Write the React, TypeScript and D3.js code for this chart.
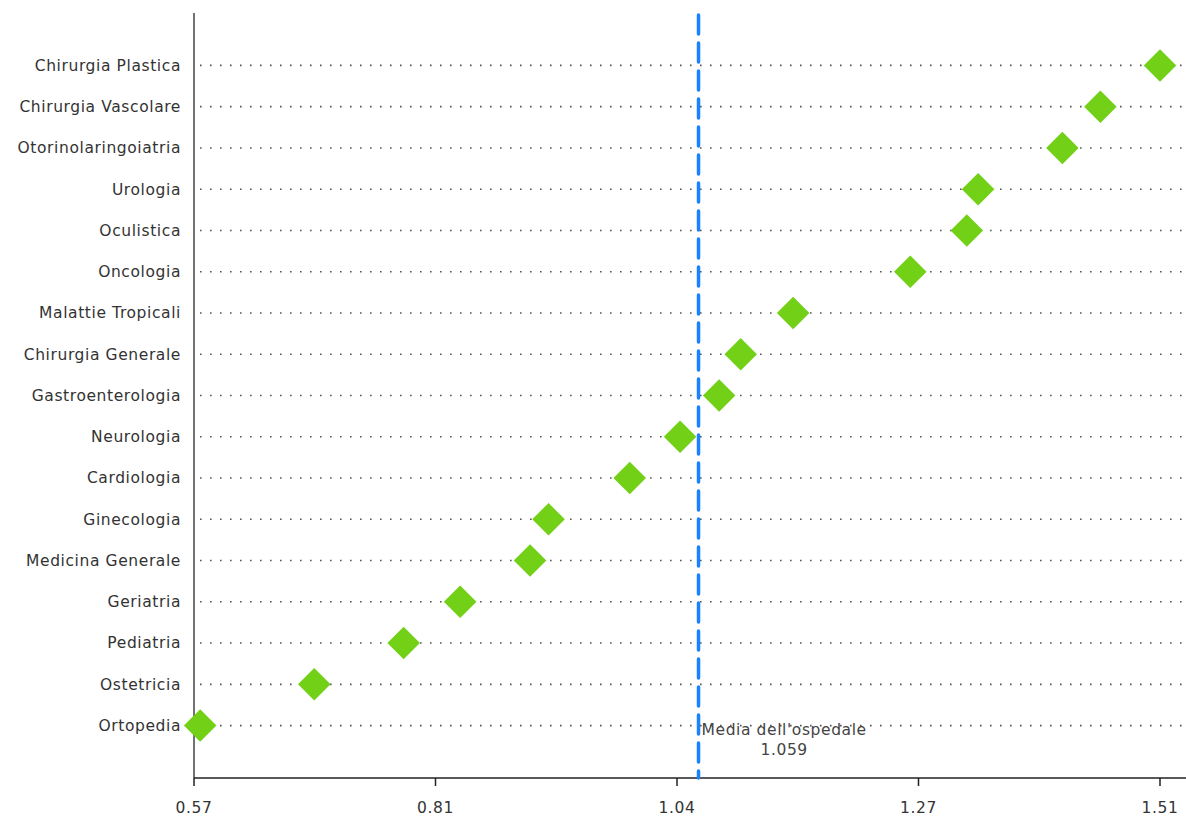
import React, { useEffect, useRef } from "react";
import * as d3 from "d3";

const categories = [
  "Chirurgia Plastica",
  "Chirurgia Vascolare",
  "Otorinolaringoiatria",
  "Urologia",
  "Oculistica",
  "Oncologia",
  "Malattie Tropicali",
  "Chirurgia Generale",
  "Gastroenterologia",
  "Neurologia",
  "Cardiologia",
  "Ginecologia",
  "Medicina Generale",
  "Geriatria",
  "Pediatria",
  "Ostetricia",
  "Ortopedia",
];
const values = [
  1.51, 1.452, 1.415, 1.333, 1.322, 1.267, 1.153, 1.102, 1.081, 1.043, 0.994,
  0.915, 0.897, 0.829, 0.774, 0.687, 0.576,
];
const tickValues = [0.57, 0.805, 1.04, 1.275, 1.51];
const tickLabels = ["0.57", "0.81", "1.04", "1.27", "1.51"];
const meanValue = 1.059;
const meanLabel = ["Media dell'ospedale", "1.059"];

const W = 1186;
const H = 818;
const FONT = "'DejaVu Sans', sans-serif";
const FS = 15.5;
const LS = 0.6;

export default function App() {
  const ref = useRef<SVGSVGElement>(null);
  useEffect(() => {
    const svg = d3.select(ref.current);
    svg.selectAll("*").remove();
    const left = 194;
    const top = 13;
    const bottom = 778;
    const x = d3.scaleLinear().domain([0.57, 1.51]).range([left, 1160]);
    const y = d3
      .scalePoint<string>()
      .domain(categories)
      .range([top, bottom])
      .padding(1.27);

    // grid dotted lines
    svg
      .append("g")
      .selectAll("line")
      .data(categories)
      .join("line")
      .attr("x1", left + 6)
      .attr("x2", W)
      .attr("y1", (d) => y(d)!)
      .attr("y2", (d) => y(d)!)
      .attr("stroke", "#555")
      .attr("stroke-width", 1.6)
      .attr("stroke-dasharray", "1.6,8.4");

    // y axis line
    svg
      .append("line")
      .attr("x1", left)
      .attr("x2", left)
      .attr("y1", top)
      .attr("y2", bottom)
      .attr("stroke", "#444")
      .attr("stroke-width", 1.5);

    // y labels
    svg
      .append("g")
      .selectAll("text")
      .data(categories)
      .join("text")
      .attr("x", left - 13)
      .attr("y", (d) => y(d)!)
      .attr("dy", "0.35em")
      .attr("text-anchor", "end")
      .attr("font-family", FONT)
      .attr("font-size", FS)
      .attr("letter-spacing", LS)
      .attr("fill", "#333")
      .text((d) => d);

    // x axis
    svg
      .append("line")
      .attr("x1", left)
      .attr("x2", W)
      .attr("y1", bottom)
      .attr("y2", bottom)
      .attr("stroke", "#222")
      .attr("stroke-width", 1.5);
    const tg = svg
      .append("g")
      .selectAll("g")
      .data(tickValues)
      .join("g")
      .attr("transform", (d) => `translate(${x(d)},${bottom})`);
    tg.append("line")
      .attr("y1", 0)
      .attr("y2", 8)
      .attr("stroke", "#222")
      .attr("stroke-width", 1.5);
    tg.append("text")
      .attr("y", 35)
      .attr("text-anchor", "middle")
      .attr("font-family", FONT)
      .attr("font-size", FS)
      .attr("letter-spacing", LS)
      .attr("fill", "#333")
      .text((_, i) => tickLabels[i]);

    // diamonds
    const sym = d3.symbol().type(d3.symbolSquare).size(23 * 23);
    svg
      .append("g")
      .selectAll("path")
      .data(categories)
      .join("path")
      .attr("d", sym()!)
      .attr(
        "transform",
        (d, i) => `translate(${x(values[i])},${y(d)}) rotate(45)`
      )
      .attr("fill", "#72d017");

    // mean line
    const mx = x(meanValue) + 2;
    svg
      .append("line")
      .attr("x1", mx)
      .attr("x2", mx)
      .attr("y1", top + 2)
      .attr("y2", bottom)
      .attr("stroke", "#1a82ff")
      .attr("stroke-width", 3.5)
      .attr("stroke-linecap", "round")
      .attr("stroke-dasharray", "19,9");

    const t1 = svg
      .append("text")
      .attr("x", mx + 3)
      .attr("y", y(categories[categories.length - 1])! + 9)
      .attr("font-family", FONT)
      .attr("font-size", FS)
      .attr("letter-spacing", LS)
      .attr("fill", "#444")
      .text(meanLabel[0]);
    const bb = (t1.node() as SVGTextElement).getBBox();
    svg
      .append("text")
      .attr("x", bb.x + bb.width / 2)
      .attr("y", y(categories[categories.length - 1])! + 29)
      .attr("text-anchor", "middle")
      .attr("font-family", FONT)
      .attr("font-size", FS)
      .attr("letter-spacing", LS)
      .attr("fill", "#444")
      .text(meanLabel[1]);
  }, []);
  return (
    <svg
      ref={ref}
      width={W}
      height={H}
      style={{ position: "absolute", left: 0, top: 0, background: "#fff" }}
    />
  );
}
